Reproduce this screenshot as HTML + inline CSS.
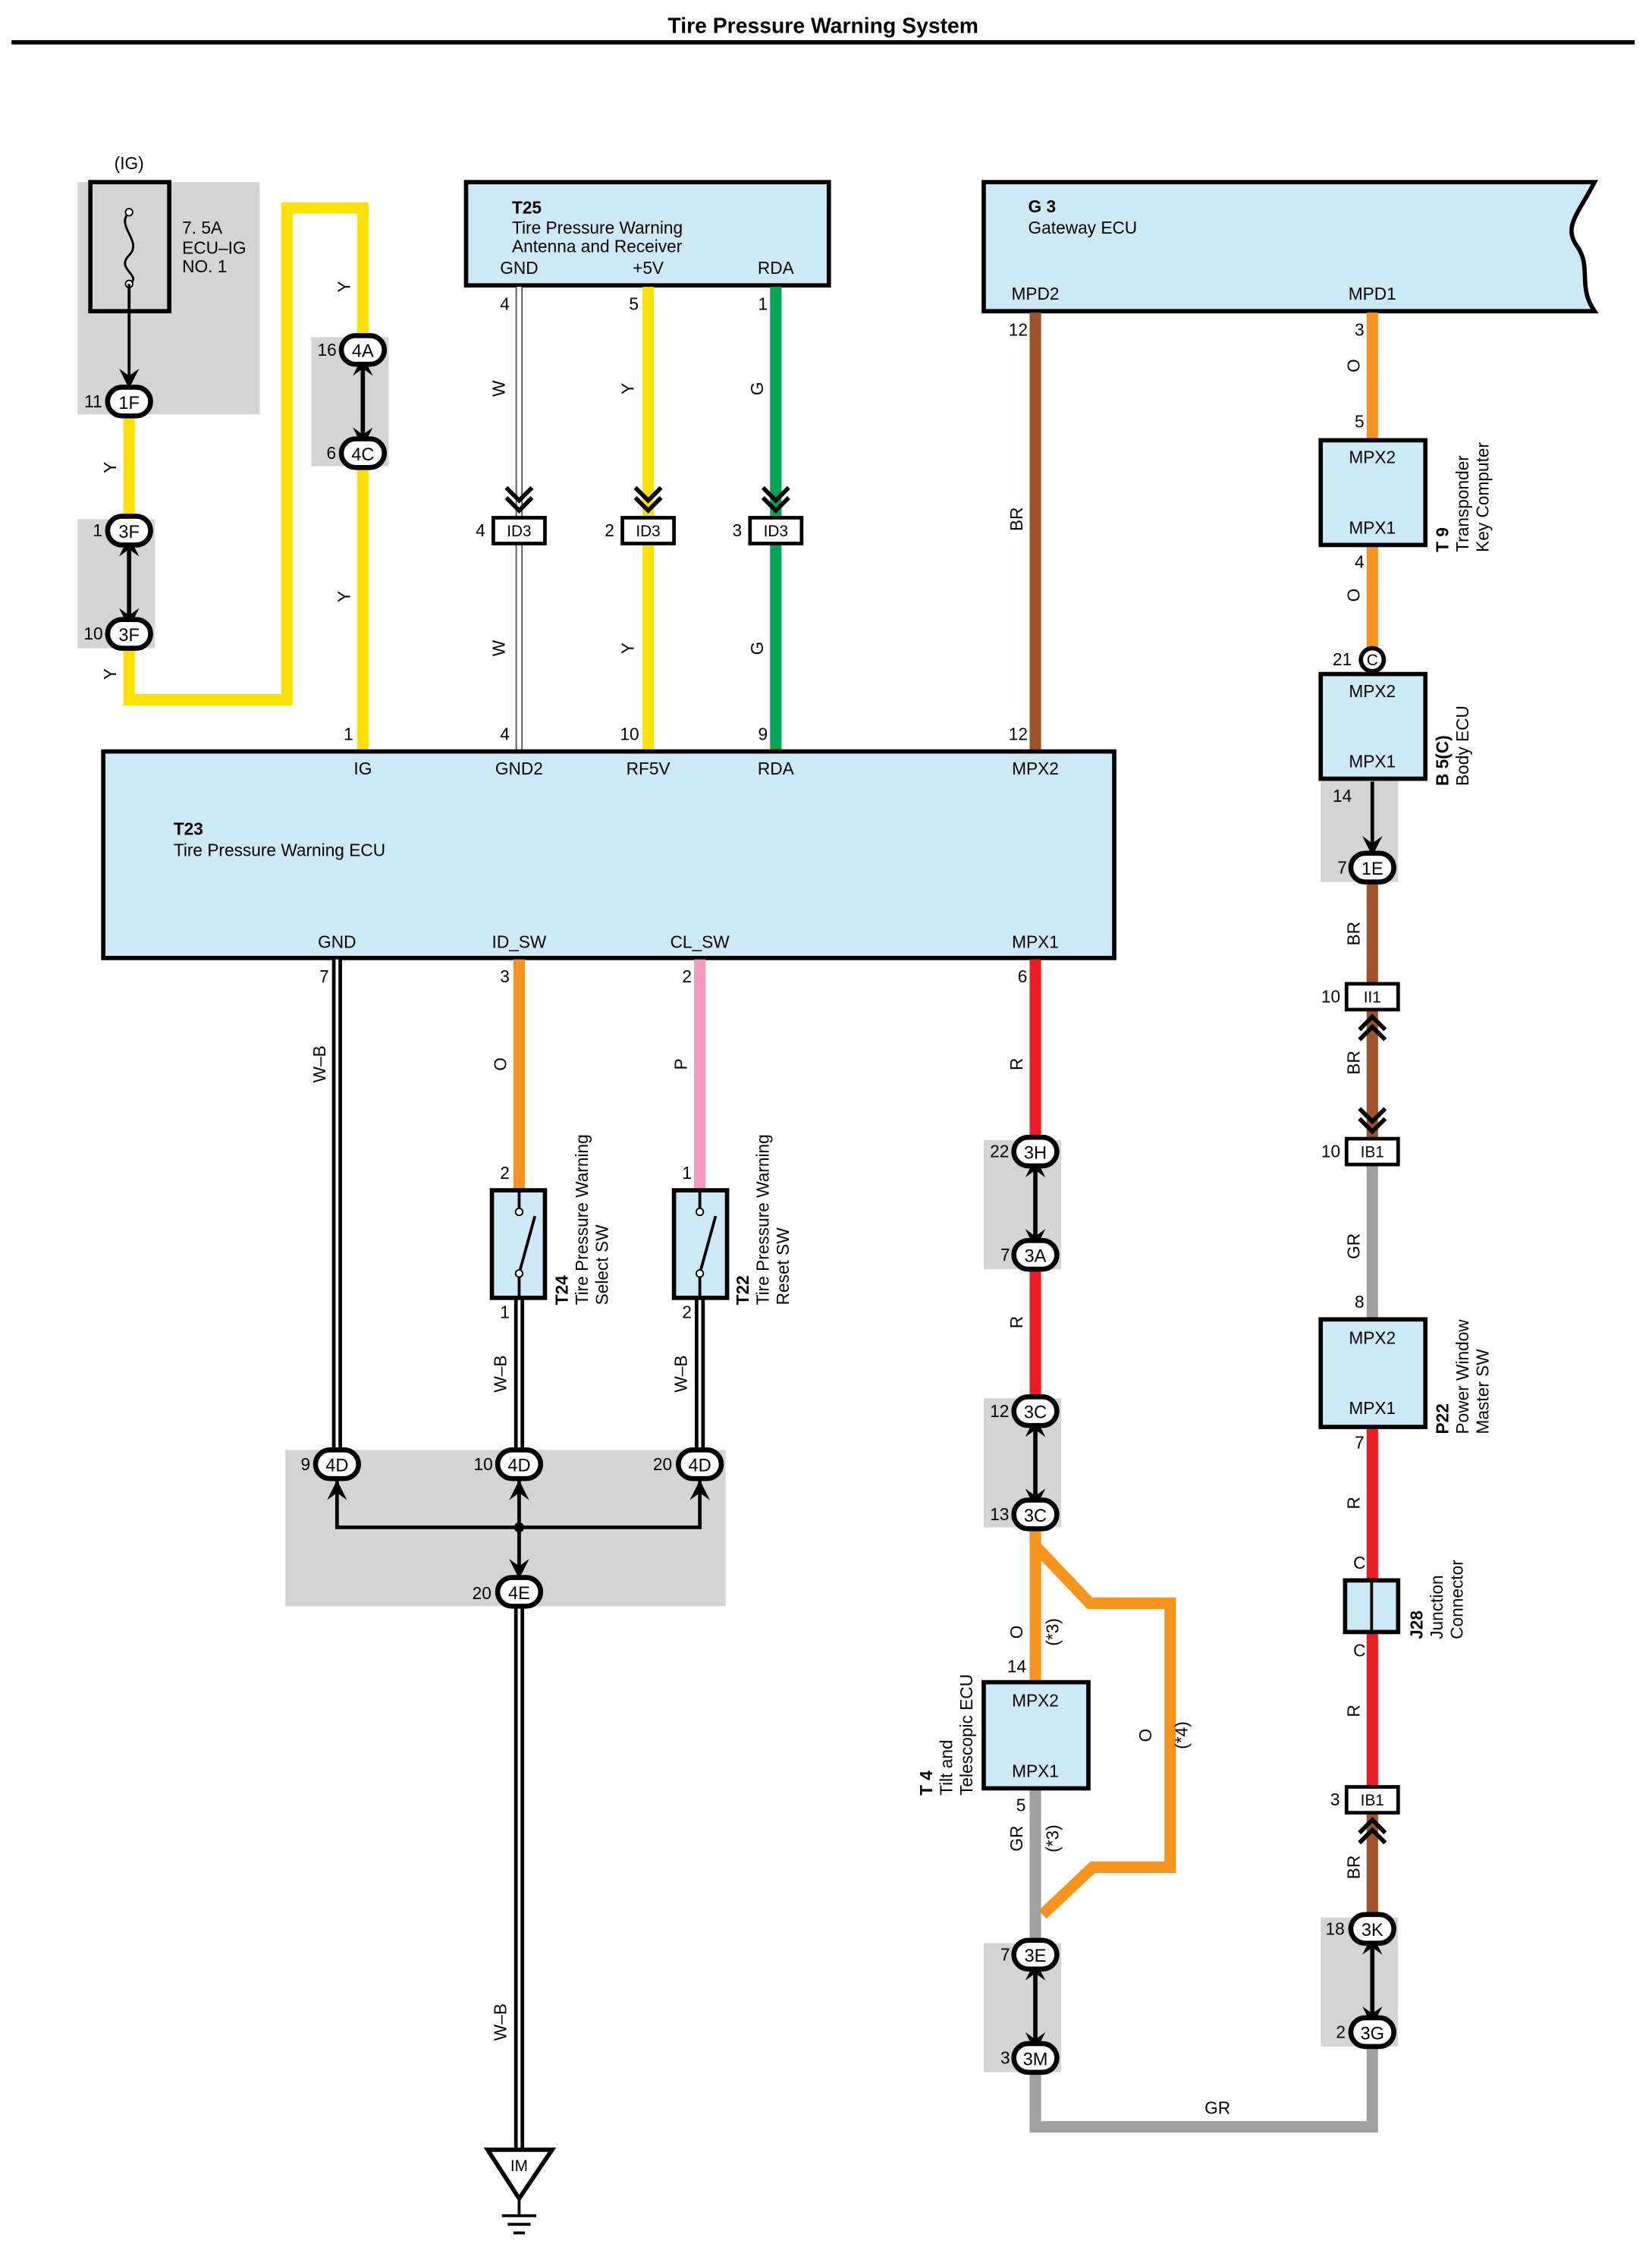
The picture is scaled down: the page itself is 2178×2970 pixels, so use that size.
<!DOCTYPE html>
<html><head><meta charset="utf-8"><style>
html,body{margin:0;padding:0;background:#fff}
svg{display:block}
text{font-family:"Liberation Sans",Arial,sans-serif;fill:#000}
</style></head><body>
<svg width="2178" height="2970" viewBox="0 0 1152 1571" xmlns="http://www.w3.org/2000/svg">
<defs>
<g id="chev"><polyline points="-9,-30 0,-21 9,-30" fill="none" stroke="#000" stroke-width="3"/><polyline points="-9,-23 0,-14 9,-23" fill="none" stroke="#000" stroke-width="3"/></g>
<g id="chevU"><polyline points="-9,30 0,21 9,30" fill="none" stroke="#000" stroke-width="3"/><polyline points="-9,23 0,14 9,23" fill="none" stroke="#000" stroke-width="3"/></g>
<path id="arrD" d="M-7,-11 L0,-6 L7,-11 L0,3 Z" fill="#000"/>
</defs>
<text x="574" y="23" font-size="15" font-weight="bold" text-anchor="middle">Tire Pressure Warning System</text>
<rect x="8" y="28" width="1132" height="3" fill="#000"/>

<!-- gray boxes -->
<rect x="54" y="127" width="127" height="162" fill="#d4d4d4"/>
<rect x="54" y="362" width="54" height="90" fill="#d4d4d4"/>
<rect x="217" y="235" width="54" height="90" fill="#d4d4d4"/>
<rect x="921" y="543" width="54" height="72" fill="#d4d4d4"/>
<rect x="686" y="795" width="54" height="90" fill="#d4d4d4"/>
<rect x="686" y="975" width="54" height="90" fill="#d4d4d4"/>
<rect x="686" y="1355" width="54" height="90" fill="#d4d4d4"/>
<rect x="921" y="1337" width="54" height="90" fill="#d4d4d4"/>
<rect x="199" y="1011" width="307" height="109" fill="#d4d4d4"/>

<!-- fuse -->
<text x="90" y="118" font-size="12" text-anchor="middle">(IG)</text>
<rect x="63" y="127" width="55" height="90" fill="none" stroke="#000" stroke-width="3"/>
<path d="M90,148 C80,158 100,168 90,178 C80,188 100,192 90,198" fill="none" stroke="#000" stroke-width="1.5"/>
<circle cx="90" cy="148" r="2.5" fill="#fff" stroke="#000"/><circle cx="90" cy="198" r="2.5" fill="#fff" stroke="#000"/>
<line x1="90" y1="198" x2="90" y2="262" stroke="#000" stroke-width="2"/>
<use href="#arrD" x="90" y="268"/>
<text x="127" y="163" font-size="12">7. 5A</text><text x="127" y="177" font-size="12">ECU–IG</text><text x="127" y="190" font-size="12">NO. 1</text>

<!-- yellow IG wire -->
<line x1="90" y1="290" x2="90" y2="362" stroke="#ffe100" stroke-width="8"/>
<polyline points="90,450 90,488 200,488 200,145 253,145 253,236" fill="none" stroke="#ffe100" stroke-width="8"/>
<line x1="253" y1="324" x2="253" y2="524" stroke="#ffe100" stroke-width="8"/>
<line x1="90" y1="380" x2="90" y2="432" stroke="#000" stroke-width="3"/>
<use href="#arrD" x="90" y="435"/><use href="#arrD" x="90" y="377" transform="rotate(180 90 377)"/>
<line x1="253" y1="254" x2="253" y2="306" stroke="#000" stroke-width="3"/>
<use href="#arrD" x="253" y="309"/><use href="#arrD" x="253" y="251" transform="rotate(180 253 251)"/>

<!-- T25 -->
<rect x="325" y="127" width="253" height="72" fill="#cde9f6" stroke="#000" stroke-width="3"/>
<text x="357" y="149" font-size="12" font-weight="bold">T25</text>
<text x="357" y="163" font-size="12">Tire Pressure Warning</text>
<text x="357" y="176" font-size="12">Antenna and Receiver</text>
<text x="362" y="191" font-size="12" text-anchor="middle">GND</text>
<text x="452" y="191" font-size="12" text-anchor="middle">+5V</text>
<text x="541" y="191" font-size="12" text-anchor="middle">RDA</text>
<line x1="362" y1="200" x2="362" y2="524" stroke="#555" stroke-width="5"/>
<line x1="362" y1="200" x2="362" y2="524" stroke="#fff" stroke-width="3"/>
<line x1="452" y1="200" x2="452" y2="524" stroke="#ffe100" stroke-width="8"/>
<line x1="541" y1="200" x2="541" y2="524" stroke="#00a651" stroke-width="8"/>
<text x="352" y="216" font-size="12" text-anchor="middle">4</text>
<text x="442" y="216" font-size="12" text-anchor="middle">5</text>
<text x="532" y="216" font-size="12" text-anchor="middle">1</text>
<text x="352" y="516" font-size="12" text-anchor="middle">4</text>
<text x="439" y="516" font-size="12" text-anchor="middle">10</text>
<text x="532" y="516" font-size="12" text-anchor="middle">9</text>
<use href="#chev" x="362" y="370"/><use href="#chev" x="452" y="370"/><use href="#chev" x="541" y="370"/>
<g font-size="12" text-anchor="middle">
<text x="335" y="374">4</text><text x="425" y="374">2</text><text x="514" y="374">3</text>
</g>
<g font-size="12" text-anchor="middle">
<text transform="translate(352,271) rotate(-90)">W</text><text transform="translate(442,271) rotate(-90)">Y</text><text transform="translate(532,271) rotate(-90)">G</text>
<text transform="translate(352,452) rotate(-90)">W</text><text transform="translate(442,452) rotate(-90)">Y</text><text transform="translate(532,452) rotate(-90)">G</text>
<text transform="translate(244,200) rotate(-90)">Y</text><text transform="translate(244,416) rotate(-90)">Y</text>
<text transform="translate(81,326) rotate(-90)">Y</text><text transform="translate(81,470) rotate(-90)">Y</text>
</g>

<!-- G3 -->
<path d="M686,127 L1112,127 C1100,150 1090,158 1100,172 C1110,186 1100,200 1112,217 L686,217 Z" fill="#cde9f6" stroke="#000" stroke-width="3"/>
<text x="717" y="148" font-size="12" font-weight="bold">G 3</text>
<text x="717" y="163" font-size="12">Gateway ECU</text>
<text x="722" y="209" font-size="12" text-anchor="middle">MPD2</text>
<text x="957" y="209" font-size="12" text-anchor="middle">MPD1</text>
<line x1="722" y1="218" x2="722" y2="524" stroke="#a0522d" stroke-width="8"/>
<text x="710" y="234" font-size="12" text-anchor="middle">12</text>
<text x="710" y="516" font-size="12" text-anchor="middle">12</text>
<text transform="translate(713,362) rotate(-90)" font-size="12" text-anchor="middle">BR</text>

<!-- right column -->
<line x1="957" y1="218" x2="957" y2="307" stroke="#f7941d" stroke-width="8"/>
<line x1="957" y1="380" x2="957" y2="452" stroke="#f7941d" stroke-width="8"/>
<line x1="957" y1="615" x2="957" y2="795" stroke="#a0522d" stroke-width="8"/>
<line x1="957" y1="812" x2="957" y2="920" stroke="#a0a0a0" stroke-width="8"/>
<line x1="957" y1="995" x2="957" y2="1248" stroke="#ed1c24" stroke-width="8"/>
<line x1="957" y1="1265" x2="957" y2="1337" stroke="#a0522d" stroke-width="8"/>
<polyline points="957,1427 957,1483 722,1483 722,1445" fill="none" stroke="#a0a0a0" stroke-width="8"/>
<text x="849" y="1474" font-size="12" text-anchor="middle">GR</text>
<g font-size="12" text-anchor="middle">
<text x="948" y="234">3</text><text x="948" y="298">5</text><text x="948" y="396">4</text>
<text transform="translate(948,255) rotate(-90)">O</text><text transform="translate(948,415) rotate(-90)">O</text>
<text x="936" y="464">21</text><text x="936" y="559">14</text><text x="936" y="609">7</text>
<text transform="translate(948,651) rotate(-90)">BR</text>
<text x="928" y="699">10</text><text transform="translate(948,741) rotate(-90)">BR</text>
<text x="928" y="807">10</text><text transform="translate(948,869) rotate(-90)">GR</text>
<text x="948" y="912">8</text><text x="948" y="1010">7</text>
<text transform="translate(948,1048) rotate(-90)">R</text>
<text x="948" y="1094">C</text><text x="948" y="1155">C</text>
<text transform="translate(948,1193) rotate(-90)">R</text>
<text x="931" y="1259">3</text><text transform="translate(948,1302) rotate(-90)">BR</text>
<text x="931" y="1349">18</text><text x="935" y="1421">2</text>
</g>
<rect x="921" y="307" width="73" height="73" fill="#cde9f6" stroke="#000" stroke-width="3"/>
<text x="957" y="323" font-size="12" text-anchor="middle">MPX2</text><text x="957" y="372" font-size="12" text-anchor="middle">MPX1</text>
<text transform="translate(1010,385) rotate(-90)" font-size="12"><tspan font-weight="bold">T 9</tspan></text>
<text transform="translate(1024,385) rotate(-90)" font-size="12">Transponder</text>
<text transform="translate(1038,385) rotate(-90)" font-size="12">Key Computer</text>
<circle cx="957" cy="460" r="8" fill="#fff" stroke="#000" stroke-width="3"/>
<text x="957" y="464" font-size="11" text-anchor="middle">C</text>
<rect x="921" y="470" width="73" height="73" fill="#cde9f6" stroke="#000" stroke-width="3"/>
<text x="957" y="486" font-size="12" text-anchor="middle">MPX2</text><text x="957" y="535" font-size="12" text-anchor="middle">MPX1</text>
<text transform="translate(1010,548) rotate(-90)" font-size="12" font-weight="bold">B 5(C)</text>
<text transform="translate(1024,548) rotate(-90)" font-size="12">Body ECU</text>
<line x1="957" y1="545" x2="957" y2="590" stroke="#000" stroke-width="2.5"/><use href="#arrD" x="957" y="594"/>
<rect x="939" y="686" width="36" height="18" fill="#fff" stroke="#000" stroke-width="2.5"/><text x="957" y="699" font-size="11" text-anchor="middle">II1</text>
<use href="#chevU" x="957" y="695"/>
<use href="#chev" x="957" y="803"/>
<rect x="939" y="794" width="36" height="18" fill="#fff" stroke="#000" stroke-width="2.5"/><text x="957" y="807" font-size="11" text-anchor="middle">IB1</text>
<rect x="921" y="920" width="73" height="75" fill="#cde9f6" stroke="#000" stroke-width="3"/>
<text x="957" y="937" font-size="12" text-anchor="middle">MPX2</text><text x="957" y="986" font-size="12" text-anchor="middle">MPX1</text>
<text transform="translate(1010,1000) rotate(-90)" font-size="12" font-weight="bold">P22</text>
<text transform="translate(1024,1000) rotate(-90)" font-size="12">Power Window</text>
<text transform="translate(1038,1000) rotate(-90)" font-size="12">Master SW</text>
<rect x="938" y="1102" width="37" height="36" fill="#cde9f6" stroke="#000" stroke-width="3"/>
<line x1="956.5" y1="1102" x2="956.5" y2="1138" stroke="#000" stroke-width="2"/>
<text transform="translate(992,1143) rotate(-90)" font-size="12" font-weight="bold">J28</text>
<text transform="translate(1006,1143) rotate(-90)" font-size="12">Junction</text>
<text transform="translate(1020,1143) rotate(-90)" font-size="12">Connector</text>
<rect x="939" y="1246" width="36" height="18" fill="#fff" stroke="#000" stroke-width="2.5"/><text x="957" y="1259" font-size="11" text-anchor="middle">IB1</text>
<use href="#chevU" x="957" y="1255"/>
<line x1="957" y1="1355" x2="957" y2="1407" stroke="#000" stroke-width="3"/>
<use href="#arrD" x="957" y="1410"/><use href="#arrD" x="957" y="1352" transform="rotate(180 957 1352)"/>

<!-- T23 -->
<rect x="72" y="524" width="705" height="144" fill="#cde9f6" stroke="#000" stroke-width="3"/>
<g font-size="12" text-anchor="middle">
<text x="253" y="540">IG</text><text x="362" y="540">GND2</text><text x="452" y="540">RF5V</text><text x="541" y="540">RDA</text><text x="722" y="540">MPX2</text>
<text x="235" y="661">GND</text><text x="362" y="661">ID_SW</text><text x="488" y="661">CL_SW</text><text x="722" y="661">MPX1</text>
<text x="243" y="516">1</text>
</g>
<text x="121" y="582" font-size="12" font-weight="bold">T23</text>
<text x="121" y="597" font-size="12">Tire Pressure Warning ECU</text>

<!-- bottom left wires -->
<g>
<line x1="235" y1="669" x2="235" y2="1012" stroke="#000" stroke-width="7"/><line x1="235" y1="669" x2="235" y2="1012" stroke="#fff" stroke-width="2"/>
<line x1="362" y1="669" x2="362" y2="830" stroke="#f7941d" stroke-width="8"/>
<line x1="488" y1="669" x2="488" y2="830" stroke="#f49ac1" stroke-width="8"/>
<line x1="362" y1="905" x2="362" y2="1012" stroke="#000" stroke-width="7"/><line x1="362" y1="905" x2="362" y2="1012" stroke="#fff" stroke-width="2"/>
<line x1="488" y1="905" x2="488" y2="1012" stroke="#000" stroke-width="7"/><line x1="488" y1="905" x2="488" y2="1012" stroke="#fff" stroke-width="2"/>
<line x1="362" y1="1120" x2="362" y2="1500" stroke="#000" stroke-width="7"/><line x1="362" y1="1120" x2="362" y2="1500" stroke="#fff" stroke-width="2"/>
</g>
<g font-size="12" text-anchor="middle">
<text x="226" y="685">7</text><text x="352" y="685">3</text><text x="479" y="685">2</text>
<text transform="translate(227,742) rotate(-90)">W–B</text>
<text transform="translate(353,742) rotate(-90)">O</text>
<text transform="translate(479,742) rotate(-90)">P</text>
<text x="352" y="822">2</text><text x="479" y="822">1</text>
<text x="352" y="919">1</text><text x="479" y="919">2</text>
<text transform="translate(353,958) rotate(-90)">W–B</text>
<text transform="translate(479,958) rotate(-90)">W–B</text>
<text x="213" y="1025">9</text><text x="337" y="1025">10</text><text x="462" y="1025">20</text>
<text x="336" y="1115">20</text>
<text transform="translate(353,1410) rotate(-90)">W–B</text>
</g>
<rect x="343" y="830" width="37" height="75" fill="#cde9f6" stroke="#000" stroke-width="3"/>
<line x1="362" y1="830" x2="362" y2="845" stroke="#000" stroke-width="2"/><line x1="362" y1="890" x2="362" y2="905" stroke="#000" stroke-width="2"/>
<line x1="362" y1="888" x2="373" y2="848" stroke="#000" stroke-width="2"/>
<circle cx="362" cy="845" r="2.5" fill="#fff" stroke="#000"/><circle cx="362" cy="888" r="2.5" fill="#fff" stroke="#000"/>
<rect x="470" y="830" width="37" height="75" fill="#cde9f6" stroke="#000" stroke-width="3"/>
<line x1="488" y1="830" x2="488" y2="845" stroke="#000" stroke-width="2"/><line x1="488" y1="890" x2="488" y2="905" stroke="#000" stroke-width="2"/>
<line x1="488" y1="888" x2="499" y2="848" stroke="#000" stroke-width="2"/>
<circle cx="488" cy="845" r="2.5" fill="#fff" stroke="#000"/><circle cx="488" cy="888" r="2.5" fill="#fff" stroke="#000"/>
<text transform="translate(396,910) rotate(-90)" font-size="12"><tspan font-weight="bold">T24</tspan></text>
<text transform="translate(410,910) rotate(-90)" font-size="12">Tire Pressure Warning</text>
<text transform="translate(424,910) rotate(-90)" font-size="12">Select SW</text>
<text transform="translate(522,910) rotate(-90)" font-size="12" font-weight="bold">T22</text>
<text transform="translate(536,910) rotate(-90)" font-size="12">Tire Pressure Warning</text>
<text transform="translate(550,910) rotate(-90)" font-size="12">Reset SW</text>
<!-- junction -->
<polyline points="235,1032 235,1065 488,1065 488,1032" fill="none" stroke="#000" stroke-width="2.5"/>
<line x1="362" y1="1032" x2="362" y2="1096" stroke="#000" stroke-width="2.5"/>
<circle cx="362" cy="1065" r="3.5" fill="#000"/>
<use href="#arrD" x="235" y="1035" transform="rotate(180 235 1035)"/>
<use href="#arrD" x="362" y="1035" transform="rotate(180 362 1035)"/>
<use href="#arrD" x="488" y="1035" transform="rotate(180 488 1035)"/>
<use href="#arrD" x="362" y="1098"/>
<!-- ground -->
<path d="M340,1499 L385,1499 L362,1533 Z" fill="#fff" stroke="#000" stroke-width="3"/>
<text x="362" y="1514" font-size="11" text-anchor="middle">IM</text>
<line x1="362" y1="1533" x2="362" y2="1545" stroke="#000" stroke-width="2"/>
<line x1="350" y1="1545" x2="374" y2="1545" stroke="#000" stroke-width="2"/>
<line x1="354" y1="1551" x2="370" y2="1551" stroke="#000" stroke-width="2"/>
<line x1="358" y1="1557" x2="366" y2="1557" stroke="#000" stroke-width="2"/>

<!-- MPX1 column -->
<line x1="722" y1="669" x2="722" y2="795" stroke="#ed1c24" stroke-width="8"/>
<line x1="722" y1="885" x2="722" y2="975" stroke="#ed1c24" stroke-width="8"/>
<line x1="722" y1="1065" x2="722" y2="1173" stroke="#f7941d" stroke-width="8"/>
<polyline points="722,1078 760,1118 816,1118 816,1302 762,1302 727,1335" fill="none" stroke="#f7941d" stroke-width="8"/>
<line x1="722" y1="1247" x2="722" y2="1355" stroke="#a0a0a0" stroke-width="8"/>
<g font-size="12" text-anchor="middle">
<text x="713" y="685">6</text><text transform="translate(713,742) rotate(-90)">R</text>
<text x="697" y="807">22</text><text x="701" y="879">7</text>
<text transform="translate(713,922) rotate(-90)">R</text>
<text x="697" y="988">12</text><text x="697" y="1060">13</text>
<text transform="translate(713,1138) rotate(-90)">O</text>
<text transform="translate(738,1138) rotate(-90)">(*3)</text>
<text x="709" y="1166">14</text><text x="712" y="1263">5</text>
<text transform="translate(713,1282) rotate(-90)">GR</text>
<text transform="translate(738,1282) rotate(-90)">(*3)</text>
<text transform="translate(803,1210) rotate(-90)">O</text>
<text transform="translate(828,1210) rotate(-90)">(*4)</text>
<text x="701" y="1367">7</text><text x="701" y="1439">3</text>
</g>
<rect x="686" y="1173" width="73" height="74" fill="#cde9f6" stroke="#000" stroke-width="3"/>
<text x="722" y="1190" font-size="12" text-anchor="middle">MPX2</text><text x="722" y="1239" font-size="12" text-anchor="middle">MPX1</text>
<text transform="translate(650,1252) rotate(-90)" font-size="12" font-weight="bold">T 4</text>
<text transform="translate(664,1252) rotate(-90)" font-size="12">Tilt and</text>
<text transform="translate(678,1252) rotate(-90)" font-size="12">Telescopic ECU</text>
<g stroke="#000" stroke-width="3">
<line x1="722" y1="813" x2="722" y2="865"/><line x1="722" y1="993" x2="722" y2="1046"/><line x1="722" y1="1373" x2="722" y2="1425"/>
</g>
<use href="#arrD" x="722" y="868"/><use href="#arrD" x="722" y="810" transform="rotate(180 722 810)"/>
<use href="#arrD" x="722" y="1049"/><use href="#arrD" x="722" y="991" transform="rotate(180 722 991)"/>
<use href="#arrD" x="722" y="1428"/><use href="#arrD" x="722" y="1370" transform="rotate(180 722 1370)"/>

<!-- ID3 boxes -->
<g font-size="11" text-anchor="middle">
<rect x="344" y="361" width="36" height="18" fill="#fff" stroke="#000" stroke-width="2.5"/><text x="362" y="374">ID3</text>
<rect x="434" y="361" width="36" height="18" fill="#fff" stroke="#000" stroke-width="2.5"/><text x="452" y="374">ID3</text>
<rect x="523" y="361" width="36" height="18" fill="#fff" stroke="#000" stroke-width="2.5"/><text x="541" y="374">ID3</text>
</g>

<!-- pill connectors -->
<g font-size="12.5" text-anchor="middle">
<g stroke="#000" stroke-width="3.5" fill="#fff">
<rect x="75" y="270" width="30" height="20" rx="10"/>
<rect x="75" y="360" width="30" height="20" rx="10"/>
<rect x="75" y="432" width="30" height="20" rx="10"/>
<rect x="238" y="234" width="30" height="20" rx="10"/>
<rect x="238" y="306" width="30" height="20" rx="10"/>
<rect x="942" y="595" width="30" height="20" rx="10"/>
<rect x="707" y="793" width="30" height="20" rx="10"/>
<rect x="707" y="865" width="30" height="20" rx="10"/>
<rect x="707" y="974" width="30" height="20" rx="10"/>
<rect x="707" y="1046" width="30" height="20" rx="10"/>
<rect x="707" y="1353" width="30" height="20" rx="10"/>
<rect x="707" y="1425" width="30" height="20" rx="10"/>
<rect x="942" y="1335" width="30" height="20" rx="10"/>
<rect x="942" y="1407" width="30" height="20" rx="10"/>
<rect x="220" y="1011" width="30" height="20" rx="10"/>
<rect x="347" y="1011" width="30" height="20" rx="10"/>
<rect x="473" y="1011" width="30" height="20" rx="10"/>
<rect x="347" y="1100" width="30" height="20" rx="10"/>
</g>
<text x="90" y="285">1F</text><text x="90" y="375">3F</text><text x="90" y="447">3F</text>
<text x="253" y="249">4A</text><text x="253" y="321">4C</text>
<text x="957" y="610">1E</text>
<text x="722" y="808">3H</text><text x="722" y="880">3A</text>
<text x="722" y="989">3C</text><text x="722" y="1061">3C</text>
<text x="722" y="1368">3E</text><text x="722" y="1440">3M</text>
<text x="957" y="1350">3K</text><text x="957" y="1422">3G</text>
<text x="235" y="1026">4D</text><text x="362" y="1026">4D</text><text x="488" y="1026">4D</text>
<text x="362" y="1115">4E</text>
</g>
<g font-size="12" text-anchor="middle">
<text x="65" y="284">11</text><text x="68" y="374">1</text><text x="65" y="446">10</text>
<text x="228" y="248">16</text><text x="231" y="320">6</text>
</g>
</svg>
</body></html>
